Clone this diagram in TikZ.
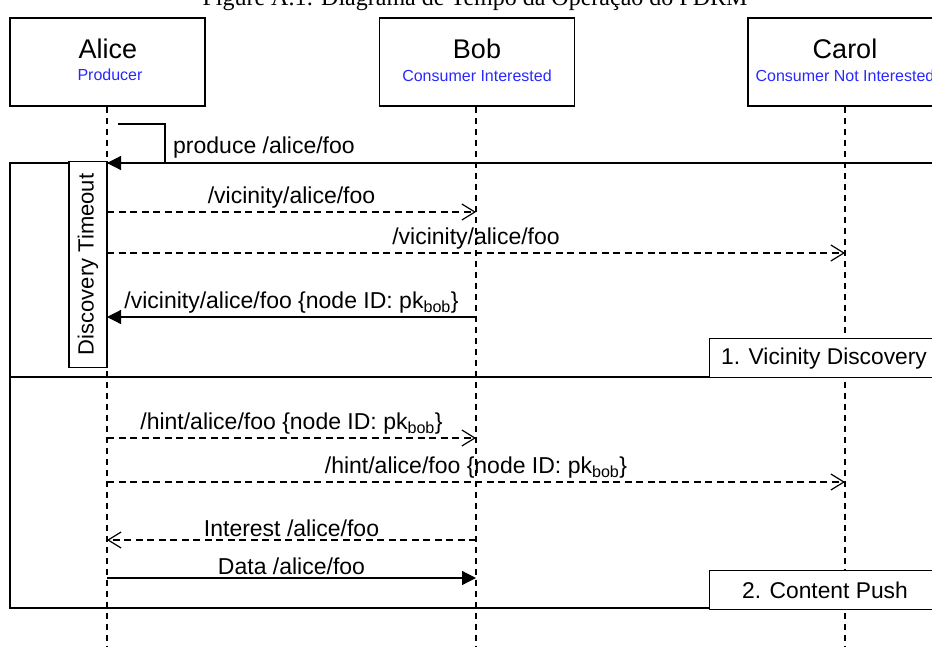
\documentclass[tikz,border=0pt]{standalone}
\usepackage{fontspec}
\setmainfont{Liberation Sans}
\newfontfamily\titlefont{Liberation Serif}
\usetikzlibrary{arrows.meta}
\definecolor{subblue}{RGB}{40,40,255}
\tikzset{
  x=1pt, y=-1pt,
  actor/.style={draw, line width=1.2pt, minimum width=195pt, minimum height=88pt, inner sep=0pt},
  lifeline/.style={line width=1.1pt, dash pattern=on 6pt off 5pt},
  frame/.style={draw, line width=1.6pt},
  tagbox/.style={draw, fill=white, line width=1.4pt, anchor=north west, minimum width=240pt, minimum height=39pt, inner sep=0pt},
  tagtext/.style={anchor=west, inner sep=0pt, font=\fontsize{22.8}{26}\selectfont},
  msg/.style={line width=1.2pt},
  async/.style={msg, dash pattern=on 7pt off 4.5pt, -{Straight Barb[length=13pt,width=16pt,line width=1.2pt]}},
  sync/.style={msg, -{Triangle[length=14pt,width=14pt]}},
  lbl/.style={font=\fontsize{23}{27}\selectfont, inner sep=3pt},
}
\begin{document}
\begin{tikzpicture}
\useasboundingbox (0,0) rectangle (932,646);
% title (cut off at top)
\node[anchor=base, font=\titlefont\fontsize{24}{28}\selectfont] (title) at (475,5) {Figure A.1: Diagrama de Tempo da Operação do PDRM};

% frames
\draw[frame] (945,163) -- (10,163) -- (10,377) -- (945,377);
\draw[frame] (10,377) -- (10,608) -- (945,608);

% actors
\node[actor] (alice) at (107.5,62) {};
\node[actor] (bob) at (477,62) {};
\node[actor] (carol) at (845.5,62) {};
\node[font=\fontsize{27}{30}\selectfont] (aliceT) at (108,49) {Alice};
\node[font=\fontsize{16}{18}\selectfont, text=subblue] (aliceS) at (110,75) {Producer};
\node[font=\fontsize{27}{30}\selectfont] (bobT) at (477,49) {Bob};
\node[font=\fontsize{16}{18}\selectfont, text=subblue] (bobS) at (477,76) {Consumer Interested};
\node[font=\fontsize{27}{30}\selectfont] (carolT) at (845,49) {Carol};
\node[font=\fontsize{16}{18}\selectfont, text=subblue] (carolS) at (845,76) {Consumer Not Interested};

% lifelines
\coordinate (aEnd) at (107,646);
\coordinate (bEnd) at (476,646);
\coordinate (cEnd) at (845,646);
\draw[lifeline] (alice.south -| aEnd) -- (aEnd);
\draw[lifeline] (bob.south -| bEnd) -- (bEnd);
\draw[lifeline] (carol.south -| cEnd) -- (cEnd);

% activation box
\node[draw, fill=white, line width=1.2pt, minimum width=38pt, minimum height=206pt, inner sep=0pt] (act) at (88,264.5) {};
\node[rotate=90, font=\fontsize{22}{26}\selectfont] (actT) at (act.center) {Discovery Timeout};

% tag boxes
\node[tagbox] (tag1) at (709,338) {};
\node[tagtext] (tag1T) at (721,358.5) {1. Vicinity Discovery};
\node[tagbox] (tag2) at (709,570) {};
\node[tagtext] (tag2T) at (742,590.5) {2. Content Push};

% lifeline coordinates
\coordinate (s0) at (118,124);
\coordinate (s1) at (165,124);
\coordinate (s2) at (165,163);
\coordinate (a0) at (107,163);
\foreach \n/\y in {1/212,2/253,3/317,4/438,5/482,6/540,7/578}{
  \coordinate (a\n) at (107,\y);
  \coordinate (b\n) at (476,\y);
  \coordinate (c\n) at (845,\y);
}

% self message
\draw[sync] (s0) -- (s1) -- (s2) -- (a0);
\node[lbl, anchor=west] (selfL) at (170,148) {produce /alice/foo};

% messages
\draw[async] (a1) -- node[lbl, above] {/vicinity/alice/foo} (b1);
\draw[async] (a2) -- node[lbl, above] {/vicinity/alice/foo} (c2);
\draw[sync] (b3) -- node[lbl, above] {/vicinity/alice/foo \{node ID: pk\textsubscript{bob}\}} (a3);
\draw[async] (a4) -- node[lbl, above] {/hint/alice/foo \{node ID: pk\textsubscript{bob}\}} (b4);
\draw[async] (a5) -- node[lbl, above] {/hint/alice/foo \{node ID: pk\textsubscript{bob}\}} (c5);
\draw[async] (b6) -- node[lbl, above] {Interest /alice/foo} (a6);
\draw[sync] (a7) -- node[lbl, above] {Data /alice/foo} (b7);
\end{tikzpicture}
\end{document}
